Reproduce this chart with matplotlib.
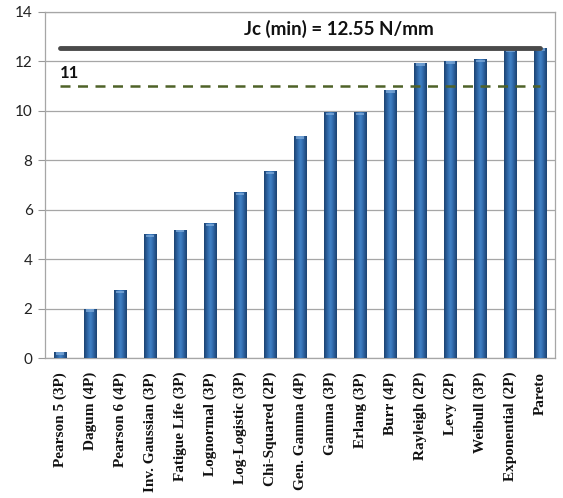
import numpy as np
import matplotlib
matplotlib.use("Agg")
import matplotlib.pyplot as plt
from matplotlib.colors import LinearSegmentedColormap

# Fitted distributions and their Jc values (N/mm)
distributions = [
    "Pearson 5 (3P)", "Dagum (4P)", "Pearson 6 (4P)", "Inv. Gaussian (3P)",
    "Fatigue Life (3P)", "Lognormal (3P)", "Log-Logistic (3P)", "Chi-Squared (2P)",
    "Gen. Gamma (4P)", "Gamma (3P)", "Erlang (3P)", "Burr (4P)", "Rayleigh (2P)",
    "Levy (2P)", "Weibull (3P)", "Exponential (2P)", "Pareto",
]
jc_values = [0.25, 2.0, 2.75, 5.0, 5.2, 5.45, 6.7, 7.55,
             9.0, 9.95, 9.95, 10.85, 11.95, 12.02, 12.1, 12.5, 12.55]
jc_min = 12.55
threshold = 11
yticks = [0, 2, 4, 6, 8, 10, 12, 14]

fig = plt.figure(figsize=(5.63, 4.98), dpi=100)
ax = fig.add_axes([0.080, 0.281, 0.906, 0.695])

x = np.arange(len(distributions))
width = 0.42

# bars with a shaded cylinder-like fill
cmap = LinearSegmentedColormap.from_list(
    "barshade", ["#1c426f", "#2d63a2", "#4284c8", "#2d63a2", "#1c426f"])
grad = np.linspace(0, 1, 64).reshape(1, -1)
bars = ax.bar(x, jc_values, width=width, color="#2d63a2", edgecolor="#1c426f",
              linewidth=0.6, zorder=3)
for b in bars:
    x0, w, h = b.get_x(), b.get_width(), b.get_height()
    im = ax.imshow(grad, cmap=cmap, aspect="auto", extent=(x0, x0 + w, 0, h),
                   zorder=3.5, interpolation="bicubic")
    im.set_clip_path(b)
    # light cap on top of each bar
    cap = min(0.12, h * 0.5)
    ax.fill_between([x0 + w * 0.15, x0 + w * 0.85], h - cap, h - cap * 0.2,
                    color="#85afdc", alpha=0.7, zorder=4, linewidth=0)

ax.plot([x[0], x[-1]], [jc_min, jc_min], color="#4a4a4a", lw=3.5,
        solid_capstyle="round", zorder=5)
ax.plot([x[0], x[-1]], [threshold, threshold], color="#4f6228", lw=1.8,
        ls=(0, (4, 3)), zorder=5)

ax.text(9.3, 13.3, f"Jc (min) = {jc_min} N/mm", ha="center", va="center",
        fontsize=13.5, fontweight="bold", family="Lato", color="#111111")
ax.text(x[0], threshold + 0.22, f"{threshold}", ha="left", va="bottom",
        fontsize=12, fontweight="bold", family="Lato", color="#111111")

ax.set_xlim(-0.5, len(distributions) - 0.5)
ax.set_ylim(0, 14)
ax.set_yticks(yticks)
ax.set_yticklabels([str(v) for v in yticks], family="Lato", fontsize=11,
                   color="#222222")
ax.set_xticks(x)
ax.set_xticklabels(distributions, rotation=90, family="Liberation Serif",
                   fontweight="bold", fontsize=11, color="#111111")
ax.tick_params(axis="x", length=0, pad=10)
ax.tick_params(axis="y", length=5, color="#999999", width=0.8, pad=4)
ax.grid(axis="y", color="#a6a6a6", lw=0.9, zorder=0)
for s in ax.spines.values():
    s.set_color("#a6a6a6")
    s.set_linewidth(0.9)

fig.savefig("out.png", dpi=100)
